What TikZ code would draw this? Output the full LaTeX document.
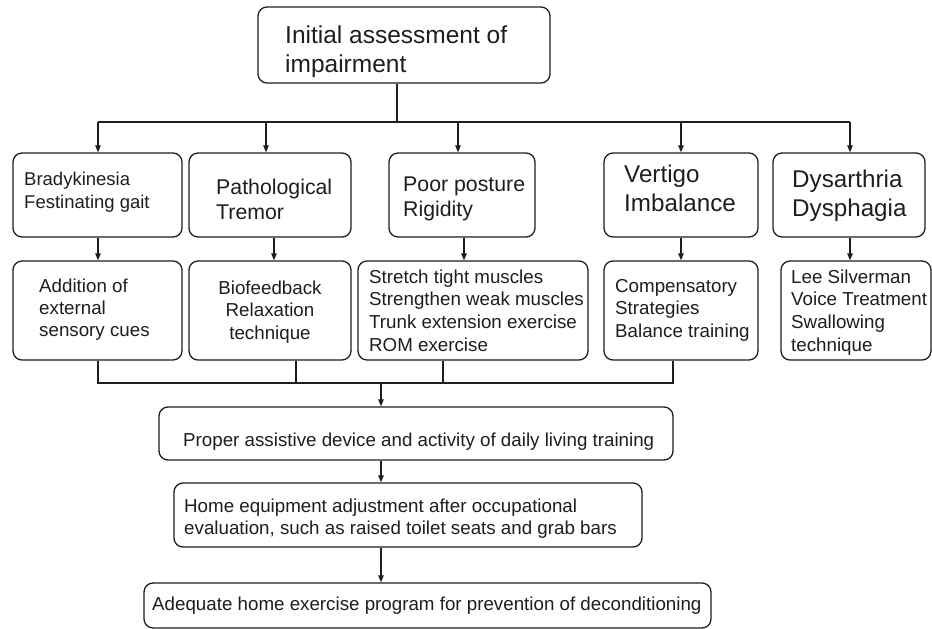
\documentclass[tikz,border=0pt]{standalone}
\usepackage{fontspec}
\setmainfont{Liberation Sans}
\usetikzlibrary{fit,arrows.meta}
\definecolor{ink}{HTML}{1E1E1E}
\tikzset{
  box/.style={draw=ink, line width=1.3pt, rounded corners=9pt, inner sep=0pt, fill=none},
  txt/.style={inner sep=0pt, text=ink, anchor=base west, align=left},
  ctxt/.style={inner sep=0pt, text=ink, anchor=base, align=center},
  conn/.style={draw=ink, line width=1.3pt},
  arr/.style={conn, -{Triangle[length=7pt,width=5.5pt]}},
  fA/.style={font=\fontsize{18.75}{22.5}\selectfont},
  fB/.style={font=\fontsize{21.3}{25}\selectfont},
  fC/.style={font=\fontsize{24.2}{28.5}\selectfont},
}
\begin{document}
\begin{tikzpicture}[x=1pt,y=-1pt]
\useasboundingbox (0,0) rectangle (932,629);
\fill[white] (0,0) rectangle (932,629);
% boxes
\node[box, fit={(258,7) (550,83)}] (top) {};
\node[box, fit={(13,153) (182,237)}] (b1) {};
\node[box, fit={(189,153) (351,237)}] (b2) {};
\node[box, fit={(389,153) (535,237)}] (b3) {};
\node[box, fit={(604,153) (758,237)}] (b4) {};
\node[box, fit={(773,153) (925,237)}] (b5) {};
\node[box, fit={(13,261) (182,360)}] (c1) {};
\node[box, fit={(189,261) (351,360)}] (c2) {};
\node[box, fit={(358,261) (588,360)}] (c3) {};
\node[box, fit={(604,261) (758,360)}] (c4) {};
\node[box, fit={(781,261) (931,360)}] (c5) {};
\node[box, fit={(159,407) (673,460)}] (p) {};
\node[box, fit={(174,483) (642,547)}] (h) {};
\node[box, fit={(144,583) (711,628)}] (a) {};
% texts (anchor = baseline of the last line)
\node[txt, font=\fontsize{24.5}{29}\selectfont] (topt) at (285,72) {Initial assessment of\\impairment};
\node[txt, font=\fontsize{18.5}{23}\selectfont] (b1t) at (24,208) {Bradykinesia\\Festinating gait};
\node[txt, fB] (b2t) at (216,219) {Pathological\\Tremor};
\node[txt, font=\fontsize{21.3}{24.5}\selectfont] (b3t) at (403,216) {Poor posture\\Rigidity};
\node[txt, fC] (b4t) at (624,211) {Vertigo\\Imbalance};
\node[txt, fC] (b5t) at (792,216) {Dysarthria\\Dysphagia};
\node[txt, font=\fontsize{18.75}{22}\selectfont] (c1t) at (39,336) {Addition of\\external\\sensory cues};
\node[ctxt, fA] (c2t) at (270,339) {Biofeedback\\Relaxation\\technique};
\node[txt, font=\fontsize{18.75}{22.6}\selectfont] (c3t) at (369,351) {Stretch tight muscles\\Strengthen weak muscles\\Trunk extension exercise\\ROM exercise};
\node[txt, fA] (c4t) at (615,337) {Compensatory\\Strategies\\Balance training};
\node[txt, font=\fontsize{18.75}{22.6}\selectfont] (c5t) at (791,351) {Lee Silverman\\Voice Treatment\\Swallowing\\technique};
\node[txt, fA] (pt) at (183,446) {Proper assistive device and activity of daily living training};
\node[txt, font=\fontsize{18.75}{22}\selectfont] (ht) at (184,534) {Home equipment adjustment after occupational\\evaluation, such as raised toilet seats and grab bars};
\node[txt, fA] (at) at (152,610) {Adequate home exercise program for prevention of deconditioning};
% top distribution
\coordinate (hub) at (397,122);
\coordinate (h1) at (98,122);
\coordinate (h2) at (266,122);
\coordinate (h3) at (458,122);
\coordinate (h4) at (681,122);
\coordinate (h5) at (850,122);
\draw[conn] (top.south -| hub) -- (hub);
\draw[conn] (h1) -- (h5);
\foreach \i in {1,...,5} {\draw[arr] (h\i) -- (h\i |- b\i.north);}
% row 1 -> row 2
\coordinate (v1) at (98,0);
\coordinate (v2) at (274,0);
\coordinate (v3) at (464,0);
\coordinate (v4) at (681,0);
\coordinate (v5) at (850,0);
\foreach \i in {1,...,5} {\draw[arr] (b\i.south -| v\i) -- (c\i.north -| v\i);}
% merge
\coordinate (m1) at (98,383);
\coordinate (m2) at (296,383);
\coordinate (m3) at (443,383);
\coordinate (m4) at (673,383);
\coordinate (mj) at (381,383);
\draw[conn] (c1.south -| m1) -- (m1) -- (m4) -- (c4.south -| m4);
\draw[conn] (c2.south -| m2) -- (m2);
\draw[conn] (c3.south -| m3) -- (m3);
\draw[arr] (mj) -- (p.north -| mj);
\draw[arr] (p.south -| mj) -- (h.north -| mj);
\draw[arr] (h.south -| mj) -- (a.north -| mj);
\end{tikzpicture}
\end{document}
